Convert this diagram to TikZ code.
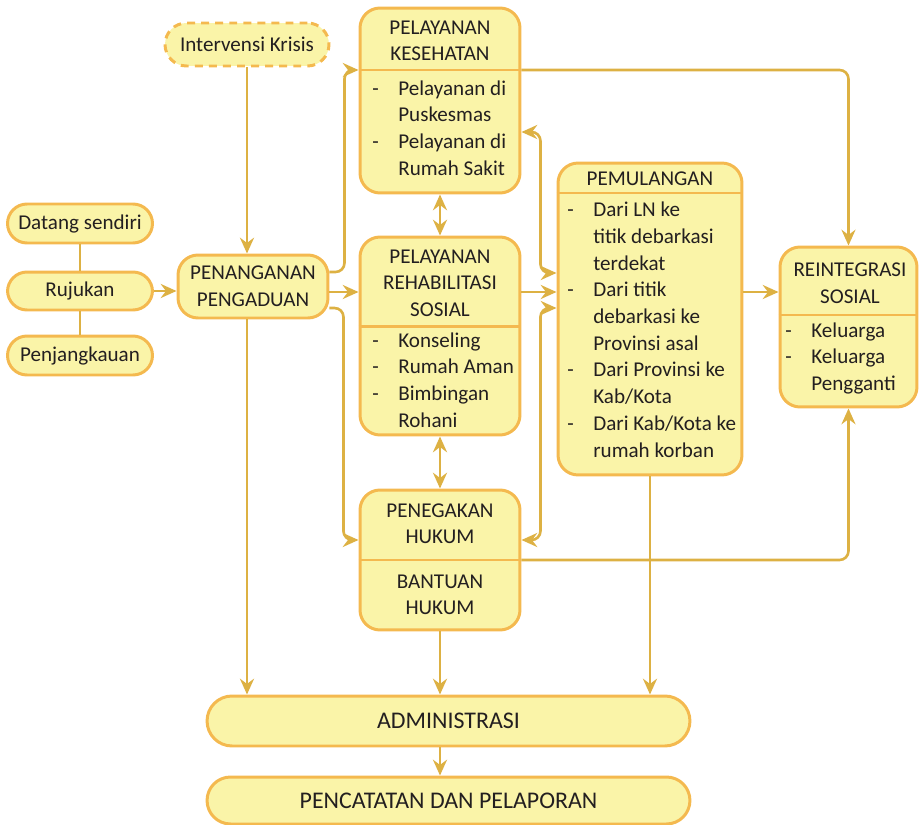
\documentclass[tikz,border=0pt]{standalone}
\usepackage{fontspec}
\setmainfont{Carlito}
\usetikzlibrary{arrows.meta}
\definecolor{boxfill}{HTML}{FAF4A8}
\definecolor{boxline}{HTML}{F4B94F}
\definecolor{arrowline}{HTML}{DDB143}
\definecolor{txt}{HTML}{231F20}
\newcommand{\judul}[1]{\begin{tabular}[t]{@{}c@{}}#1\end{tabular}}
\newcommand{\daftar}[1]{\begin{tabular}[t]{@{}p{0.52cm}@{}l@{}}#1\end{tabular}}

\begin{document}
\begin{tikzpicture}[x=0.02cm,y=-0.02cm,>={Stealth[length=9pt,width=8pt,inset=3pt]},
  every node/.style={text=txt,font=\fontsize{12}{15.2}\selectfont},
  panel/.style={draw=boxline,fill=boxfill,line width=1.7pt,rounded corners=0.4cm,inner sep=0pt},
  pill/.style={panel,rounded corners=0.39cm,minimum height=0.78cm,minimum width=2.9cm},
  heading/.style={inner sep=0pt,anchor=base},
  items/.style={inner sep=0pt,anchor=base west},
  divider/.style={draw=boxline,line width=1.7pt},
  link/.style={draw=arrowline,line width=1.5pt,->,rounded corners=0.18cm},
  twoway/.style={link,<->}]
\useasboundingbox (0,0) rectangle (921,825);
% levels of the dividers and of the side connectors
  \coordinate (kesline) at (0,70);
  \coordinate (rehline) at (0,326.7);
  \coordinate (pulline) at (0,193);
  \coordinate (reiline) at (0,315);
  \coordinate (midrow) at (0,292);
  \coordinate (upout) at (0,272);
  \coordinate (downout) at (0,308);
  \coordinate (lowrow) at (0,540);
  \coordinate (kesin) at (0,132);
  \coordinate (pulin1) at (0,273);
  \coordinate (pulin2) at (0,308);
% entry points on the left
  \node[pill,dashed,dash pattern=on 4.5pt off 3.5pt,minimum width=3.28cm,minimum height=0.86cm,rounded corners=0.43cm] (kris) at (247,44.5) {Intervensi Krisis};
  \node[pill] (datang) at (80,223.5) {Datang sendiri};
  \node[pill,minimum height=0.76cm] (rujukan) at (80,291) {Rujukan};
  \node[pill] (penjang) at (80,355.5) {Penjangkauan};
  \node[panel,minimum width=3cm,minimum height=1.26cm,align=center] (pengaduan) at (253,286.5) {PENANGANAN\\PENGADUAN};
% service boxes
  \node[panel,minimum width=3.2cm,minimum height=3.7cm] (kes) at (440,100.5) {};
  \node[panel,minimum width=3.2cm,minimum height=3.96cm] (rehab) at (440,336) {};
  \node[panel,minimum width=3.2cm,minimum height=2.8cm] (hukum) at (440,560) {};
  \node[panel,minimum width=3.68cm,minimum height=6.24cm] (pulang) at (650,319) {};
  \node[panel,minimum width=2.74cm,minimum height=3.2cm] (reint) at (848.5,327) {};
  \draw[divider] (kes.west |- kesline) -- (kes.east |- kesline);
  \draw[divider] (rehab.west |- rehline) -- (rehab.east |- rehline);
  \draw[divider] (hukum.west) -- (hukum.east);
  \draw[divider] (pulang.west |- pulline) -- (pulang.east |- pulline);
  \draw[divider] (reint.west |- reiline) -- (reint.east |- reiline);
  \node[heading] (keshead) at (440,34) {\judul{PELAYANAN\\KESEHATAN}};
  \node[items] (keslist) at (372,95) {\daftar{-&Pelayanan di\\&Puskesmas\\-&Pelayanan di\\&Rumah Sakit}};
  \node[heading] (rehhead) at (440,263) {\judul{PELAYANAN\\REHABILITASI\\SOSIAL}};
  \node[items] (rehlist) at (372,347) {\daftar{-&Konseling\\-&Rumah Aman\\-&Bimbingan\\&Rohani}};
  \node[heading] (hukhead) at (440,517) {\judul{PENEGAKAN\\HUKUM}};
  \node[heading] (bantuan) at (440,588) {\judul{BANTUAN\\HUKUM}};
  \node[heading] (pulhead) at (650,185) {PEMULANGAN};
  \node[items] (pullist) at (567,216.7) {\daftar{-&Dari LN ke\\&titik debarkasi\\&terdekat\\-&Dari titik\\&debarkasi ke\\&Provinsi asal\\-&Dari Provinsi ke\\&Kab/Kota\\-&Dari Kab/Kota ke\\&rumah korban}};
  \node[heading] (reihead) at (850,276.7) {\judul{REINTEGRASI\\SOSIAL}};
  \node[items] (reilist) at (785,337) {\daftar{-&Keluarga\\-&Keluarga\\&Pengganti}};
% bottom bars
  \node[panel,minimum width=9.66cm,minimum height=1cm,rounded corners=0.5cm,font=\fontsize{13.6}{16}\selectfont] (admin) at (448.5,721) {ADMINISTRASI};
  \node[panel,minimum width=9.66cm,minimum height=0.94cm,rounded corners=0.47cm,font=\fontsize{13.6}{16}\selectfont] (catat) at (448.5,800.5) {PENCATATAN DAN PELAPORAN};
% connectors
  \draw[link] (kris) -- (kris |- pengaduan.north);
  \draw[draw=arrowline,line width=1.5pt] (datang) -- (rujukan) -- (penjang);
  \draw[link] (rujukan) -- (rujukan -| pengaduan.west);
  \draw[link] (pengaduan.east |- midrow) -- (rehab.west |- midrow);
  \draw[link] (pengaduan.east |- upout) -- ++(15,0) |- (kes.west |- kesline);
  \draw[link] (pengaduan.east |- downout) -- ++(14,0) |- (hukum.west |- lowrow);
  \draw[link] (pengaduan.south -| kris) -- (admin.north -| kris);
  \draw[twoway] (kes) -- (rehab);
  \draw[twoway] (rehab) -- (hukum);
  \draw[link] (kes.east |- kesline) -| (reint);
  \draw[link] (hukum.east) -| (reint);
  \draw[twoway] (kes.east |- kesin) -- ++(19,0) |- (pulang.west |- pulin1);
  \draw[link] (rehab.east |- midrow) -- (pulang.west |- midrow);
  \draw[twoway] (hukum.east |- lowrow) -- ++(19,0) |- (pulang.west |- pulin2);
  \draw[link] (pulang.east |- midrow) -- (reint.west |- midrow);
  \draw[link] (pulang) -- (pulang |- admin.north);
  \draw[link] (hukum) -- (hukum |- admin.north);
  \draw[link] (admin.south -| hukum) -- (catat.north -| hukum);
\end{tikzpicture}
\end{document}
